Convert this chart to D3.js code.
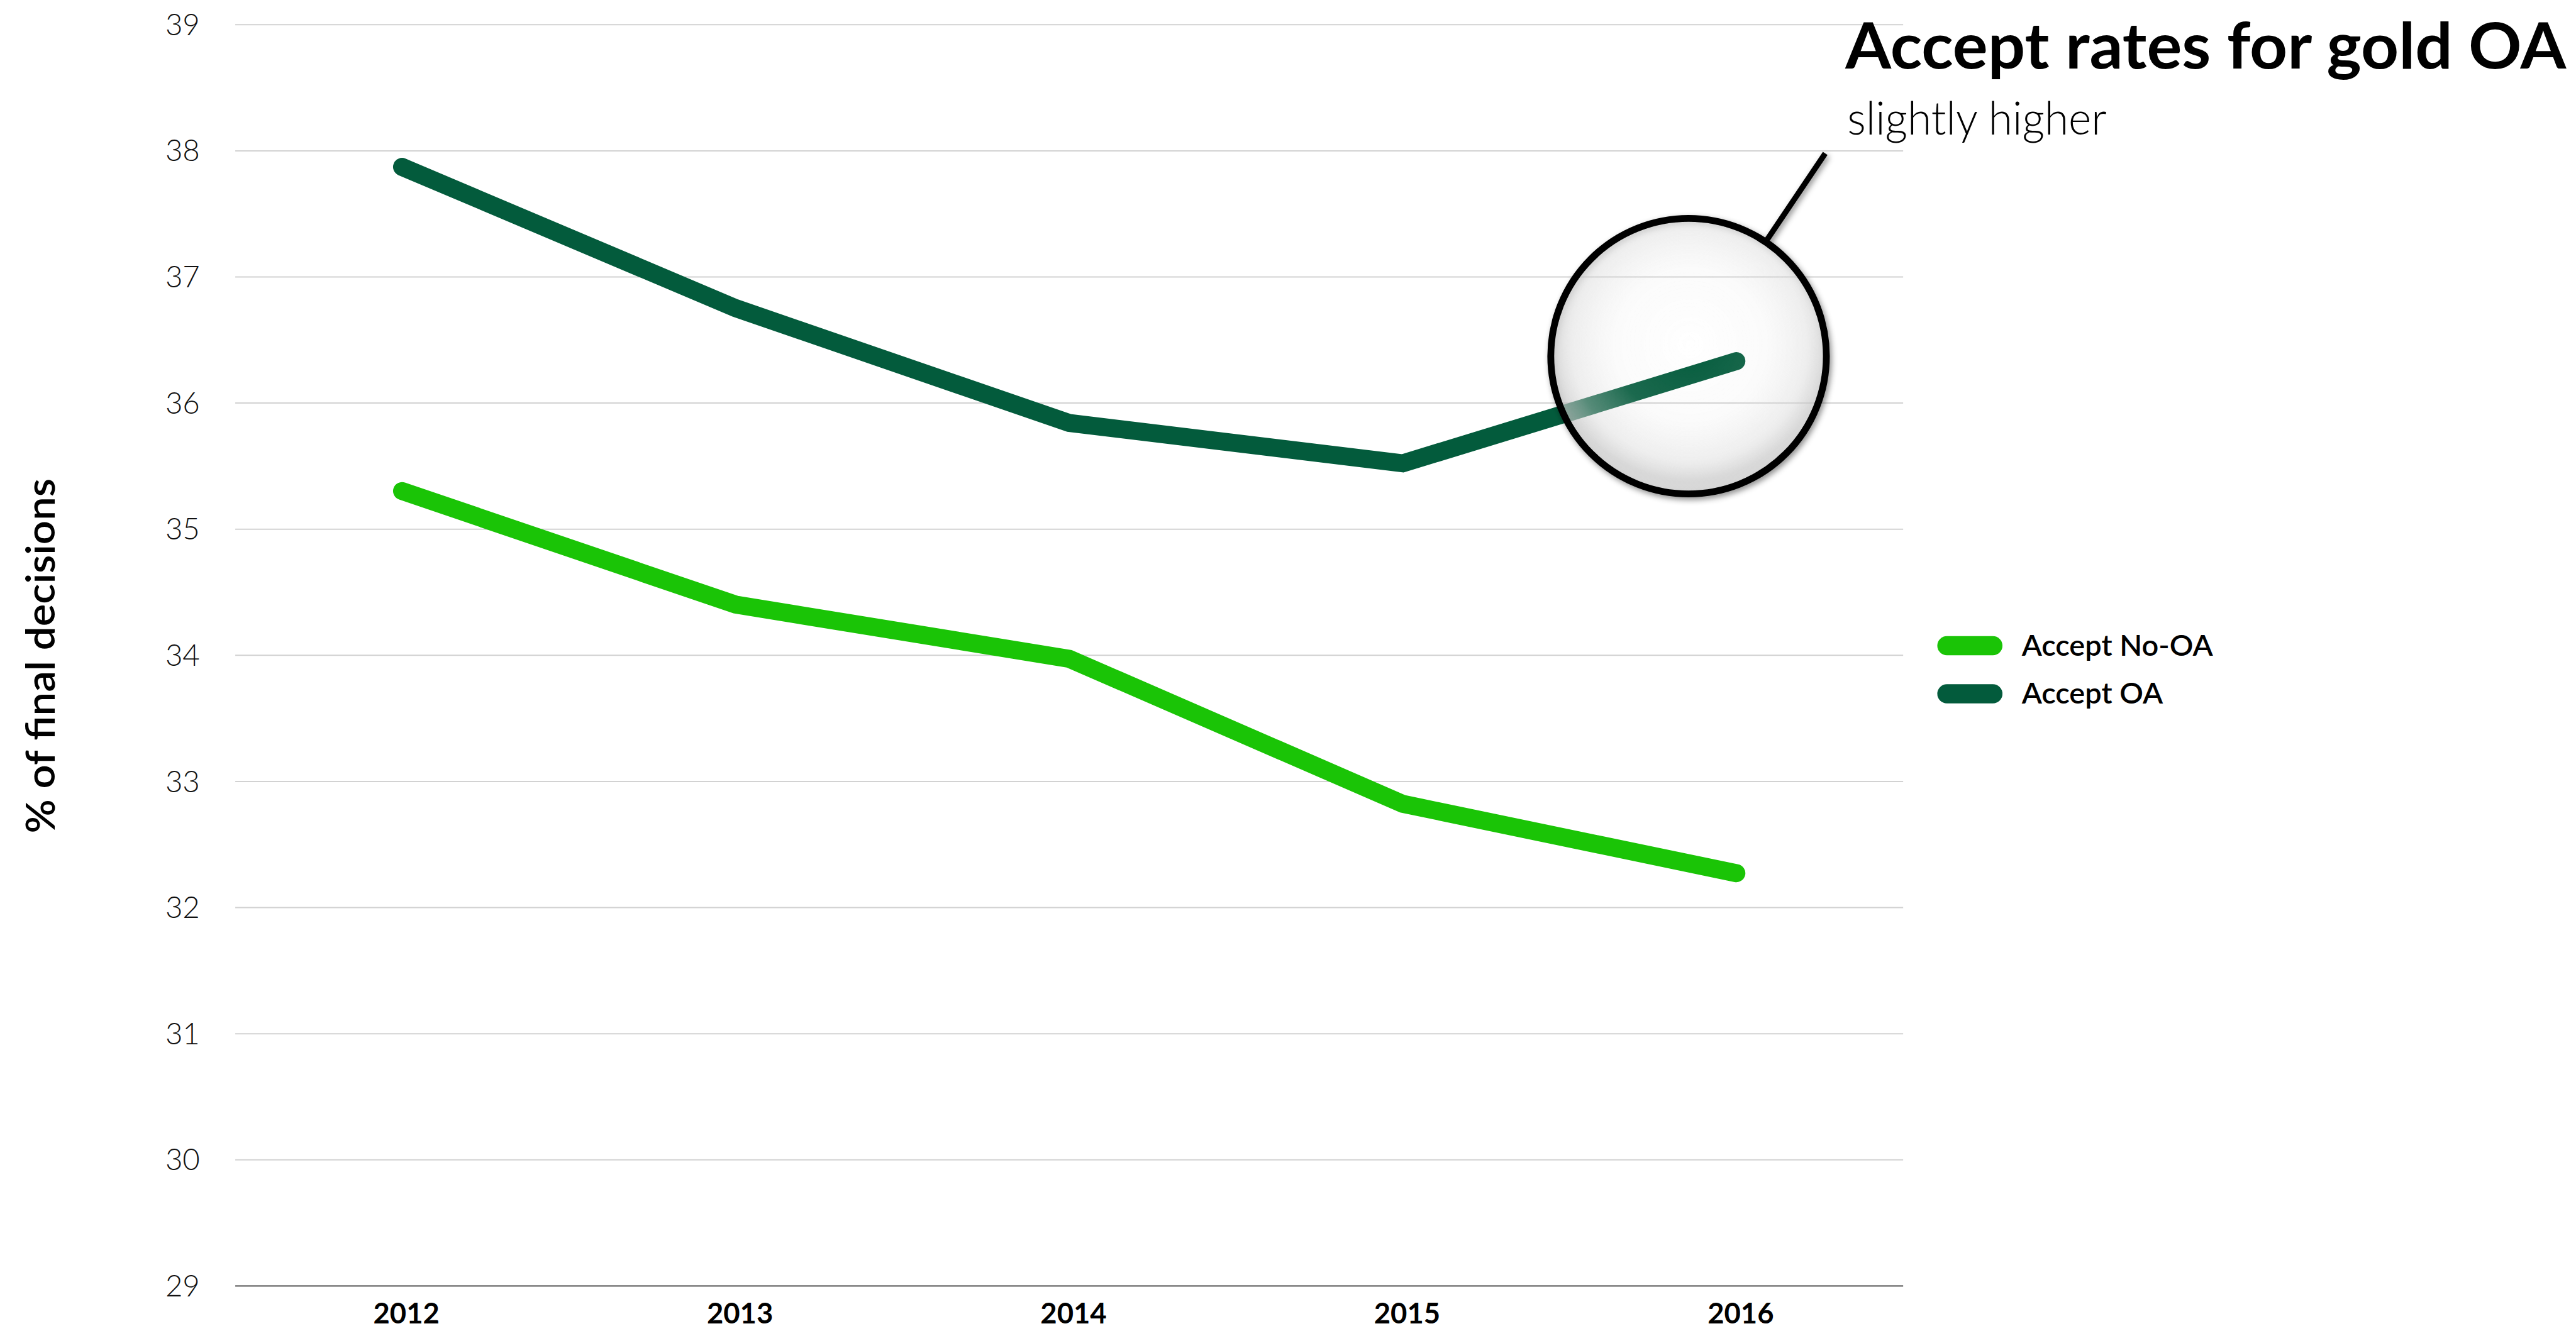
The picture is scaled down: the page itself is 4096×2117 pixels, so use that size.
<!DOCTYPE html>
<html>
<head>
<meta charset="utf-8">
<script src="https://cdn.jsdelivr.net/npm/d3@7"></script>
<style>
  html, body { margin: 0; padding: 0; background: #ffffff; }
  svg { display: block; }
</style>
</head>
<body>
<div id="chart"></div>
<script>
// ---------- data ----------
const years = ["2012", "2013", "2014", "2015", "2016"];
const acceptNoOA = [35.30, 34.40, 33.97, 32.82, 32.27];
const acceptOA = [37.87, 36.75, 35.84, 35.52, 36.33];
const seriesNames = ["Accept No-OA", "Accept OA"];
const seriesColors = ["#1ac406", "#035b3c"];
const yTicks = [29, 30, 31, 32, 33, 34, 35, 36, 37, 38, 39];
const yLabel = "% of final decisions";
const titleText = "Accept rates for gold OA";
const subtitleText = "slightly higher";
const highlightYear = "2016";

// ---------- layout (reference pixel units, scaled by 0.987) ----------
const S = 0.987;
const W = 4096, H = 2117;
const FONT = "Lato, 'Open Sans', 'Noto Sans', sans-serif";

const svg = d3.select("#chart").append("svg")
  .attr("width", W).attr("height", H)
  .attr("viewBox", `0 0 ${W} ${H}`);

const defs = svg.append("defs");
const grad = defs.append("radialGradient").attr("id", "lens")
  .attr("cx", "50%").attr("cy", "45%").attr("r", "50%");
grad.append("stop").attr("offset", "0%").attr("stop-color", "#ffffff").attr("stop-opacity", 0.0);
grad.append("stop").attr("offset", "55%").attr("stop-color", "#ffffff").attr("stop-opacity", 0.08);
grad.append("stop").attr("offset", "85%").attr("stop-color", "#f0f0f0").attr("stop-opacity", 0.3);
grad.append("stop").attr("offset", "100%").attr("stop-color", "#d4d4d4").attr("stop-opacity", 0.55);

const shadow = defs.append("filter").attr("id", "shadow")
  .attr("x", "-20%").attr("y", "-20%").attr("width", "140%").attr("height", "140%");
shadow.append("feDropShadow").attr("dx", 3).attr("dy", 4)
  .attr("stdDeviation", 5).attr("flood-color", "#000").attr("flood-opacity", 0.45);

const g = svg.append("g").attr("transform", `scale(${S})`);

const x0 = 379, x1 = 3066;
const x = d3.scaleBand().domain(years).range([x0, x1]);
const xc = d => x(d) + x.bandwidth() / 2;
const y = d3.scaleLinear().domain([29, 39]).range([2071.8, 39.3]);

// ---------- y axis / gridlines ----------
const yAxis = g.append("g").attr("transform", `translate(${x0},0)`)
  .call(d3.axisLeft(y).tickValues(yTicks).tickSize(-(x1 - x0)).tickPadding(57).tickFormat(d3.format("d")));
yAxis.select(".domain").remove();
yAxis.selectAll(".tick line")
  .attr("stroke", d => d === 29 ? "#8a8a8a" : "#d2d2d2")
  .attr("stroke-width", d => d === 29 ? 3 : 2);
yAxis.selectAll(".tick text")
  .attr("font-family", FONT).attr("font-weight", 300)
  .attr("font-size", 48).attr("fill", "#111").attr("dy", "0.35em");

// ---------- x axis ----------
const xAxis = g.append("g").attr("transform", `translate(0,${y(29)})`)
  .call(d3.axisBottom(x).tickSize(0));
xAxis.select(".domain").remove();
xAxis.selectAll(".tick text")
  .attr("font-family", FONT).attr("font-weight", 700)
  .attr("font-size", 46).attr("fill", "#000")
  .attr("y", 61).attr("dy", 0).attr("dx", 7);

// ---------- y label ----------
g.append("text")
  .attr("transform", "translate(88,1057) rotate(-90)")
  .attr("text-anchor", "middle")
  .attr("font-family", FONT).attr("font-weight", 600)
  .attr("font-size", 64).attr("fill", "#000")
  .attr("textLength", 572).attr("lengthAdjust", "spacingAndGlyphs")
  .text(yLabel);

// ---------- lines ----------
const line = d3.line().x((d, i) => xc(years[i])).y(d => y(d));
const series = [acceptNoOA, acceptOA];
g.append("g").selectAll("path").data(series).join("path")
  .attr("d", d => line(d))
  .attr("fill", "none")
  .attr("stroke", (d, i) => seriesColors[i])
  .attr("stroke-width", 29)
  .attr("stroke-linecap", "round")
  .attr("stroke-linejoin", "miter");

// ---------- magnifier annotation ----------
const hi = years.indexOf(highlightYear);
const cx = xc(highlightYear) - 77, cy = y(acceptOA[hi]) - 8;
const R = 222;
const ang = Math.atan2(-190, 128);
const ann = g.append("g").attr("filter", "url(#shadow)");
ann.append("circle")
  .attr("cx", cx).attr("cy", cy).attr("r", R)
  .attr("fill", "url(#lens)")
  .attr("stroke", "#000").attr("stroke-width", 11);
ann.append("line")
  .attr("x1", cx + Math.cos(ang) * (R + 5)).attr("y1", cy + Math.sin(ang) * (R + 5))
  .attr("x2", cx + Math.cos(ang) * (R + 172)).attr("y2", cy + Math.sin(ang) * (R + 172))
  .attr("stroke", "#000").attr("stroke-width", 9);

// ---------- title ----------
g.append("text").attr("x", 2973).attr("y", 110)
  .attr("font-family", FONT).attr("font-weight", 700)
  .attr("font-size", 102).attr("fill", "#000")
  .attr("textLength", 1161).attr("lengthAdjust", "spacingAndGlyphs")
  .text(titleText);
g.append("text").attr("x", 2976).attr("y", 217)
  .attr("font-family", FONT).attr("font-weight", 300)
  .attr("font-size", 73).attr("fill", "#000")
  .attr("textLength", 418).attr("lengthAdjust", "spacingAndGlyphs")
  .text(subtitleText);

// ---------- legend ----------
const legendY = [1040.5, 1118];
const legendTextLen = [311, 0];
const leg = g.append("g").selectAll("g").data(seriesNames).join("g")
  .attr("transform", (d, i) => `translate(0,${legendY[i]})`);
leg.append("line")
  .attr("x1", 3136.5).attr("x2", 3210.5).attr("y1", 0).attr("y2", 0)
  .attr("stroke", (d, i) => seriesColors[i])
  .attr("stroke-width", 31).attr("stroke-linecap", "round");
leg.append("text")
  .attr("x", 3257).attr("y", 16)
  .attr("font-family", FONT).attr("font-weight", 600)
  .attr("font-size", 47.5).attr("fill", "#000")
  .text(d => d);
</script>
</body>
</html>
